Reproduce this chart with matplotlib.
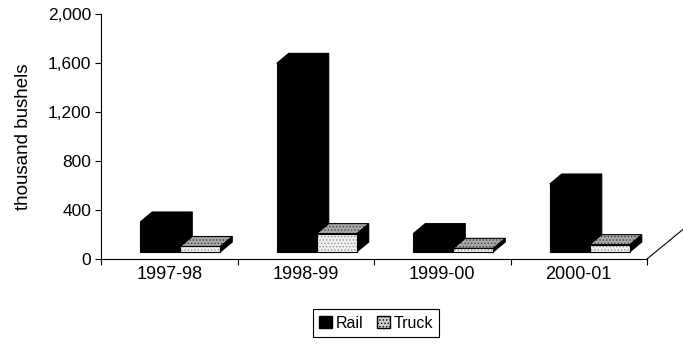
import matplotlib
matplotlib.use('Agg')
import matplotlib.pyplot as plt
from matplotlib.patches import Polygon, Patch

# wheat shipments, thousand bushels
seasons = ['1997-98', '1998-99', '1999-00', '2000-01']
rail = [245, 1540, 150, 555]
truck = [45, 150, 30, 60]
yticks = [0, 400, 800, 1200, 1600, 2000]

plt.rcParams['font.family'] = ['Liberation Sans', 'DejaVu Sans']
plt.rcParams['hatch.linewidth'] = 0.6

W, H = 683, 349
fig = plt.figure(figsize=(W / 100, H / 100), dpi=100)
ax = fig.add_axes([101 / W, (H - 259) / H, 546 / W, 245 / H])
ax.set_xlim(0, len(seasons))
ax.set_ylim(yticks[0], yticks[-1])

# pixel -> data helpers for the pseudo 3-D geometry
px_x = 546 / len(seasons)
px_y = 245 / yticks[-1]
def dx(p): return p / px_x
def dy(p): return p / px_y

lift = dy(7)                  # bars stand a bit back from the floor edge
ddx, ddy = dx(12), dy(10)     # bar depth
bw = dx(40)
left0 = dx(-29)


def face(pts, fc, hatch=None, hc='#707070'):
    if hatch:
        ax.add_patch(Polygon(pts, closed=True, facecolor=fc, edgecolor=hc,
                             hatch=hatch, lw=0, clip_on=False, zorder=3))
        ax.add_patch(Polygon(pts, closed=True, facecolor='none', edgecolor='k',
                             lw=0.8, clip_on=False, zorder=3))
    else:
        ax.add_patch(Polygon(pts, closed=True, facecolor=fc, edgecolor='k',
                             lw=0.8, clip_on=False, zorder=3))


def box(x0, h, front, top, side, hatch=None):
    y0, y1, x1 = lift, lift + h, x0 + bw
    face([(x1, y0), (x1 + ddx, y0 + ddy), (x1 + ddx, y1 + ddy), (x1, y1)], side)
    face([(x0, y1), (x1, y1), (x1 + ddx, y1 + ddy), (x0 + ddx, y1 + ddy)], top,
         hatch, '#404040')
    face([(x0, y0), (x1, y0), (x1, y1), (x0, y1)], front, hatch, '#909090')


for i in range(len(seasons)):
    x0 = i + 0.5 + left0
    box(x0, rail[i], 'k', 'k', 'k')
    box(x0 + bw, truck[i], '#f0f0f0', '#a8a8a8', 'k', hatch='.....')

# floor edge running back on the right
ax.plot([len(seasons), len(seasons) + dx(45)], [0, dy(37)], color='k', lw=0.8,
        clip_on=False)

for s in ['top', 'right']:
    ax.spines[s].set_visible(False)
for s in ['left', 'bottom']:
    ax.spines[s].set_linewidth(0.8)

ax.set_yticks(yticks)
ax.set_yticklabels([f'{v:,}' for v in yticks], fontsize=12.5)
ax.tick_params(axis='y', length=4, width=0.8, pad=3)

ax.set_xticks(range(len(seasons) + 1))
ax.set_xticklabels([])
ax.set_xticks([i + 0.5 for i in range(len(seasons))], minor=True)
ax.set_xticklabels(seasons, minor=True, fontsize=13)
ax.tick_params(axis='x', which='major', length=4, width=0.8)
ax.tick_params(axis='x', which='minor', length=0, pad=5)

ax.set_ylabel('thousand bushels', fontsize=13.5)
ax.yaxis.set_label_coords(-0.126, 0.5)

handles = [Patch(facecolor='k', edgecolor='k', label='Rail'),
           Patch(facecolor='#d0d0d0', edgecolor='k', hatch='.....', label='Truck')]
fig.legend(handles=handles, loc='center', bbox_to_anchor=(376 / W, 1 - 323 / H),
           ncol=2, fontsize=11.5, frameon=True, fancybox=False, edgecolor='k',
           handlelength=0.8, handleheight=0.8, handletextpad=0.2,
           columnspacing=0.9, borderpad=0.4, framealpha=1)
fig.legends[0].get_frame().set_linewidth(0.8)

fig.savefig('out.png', dpi=100)
